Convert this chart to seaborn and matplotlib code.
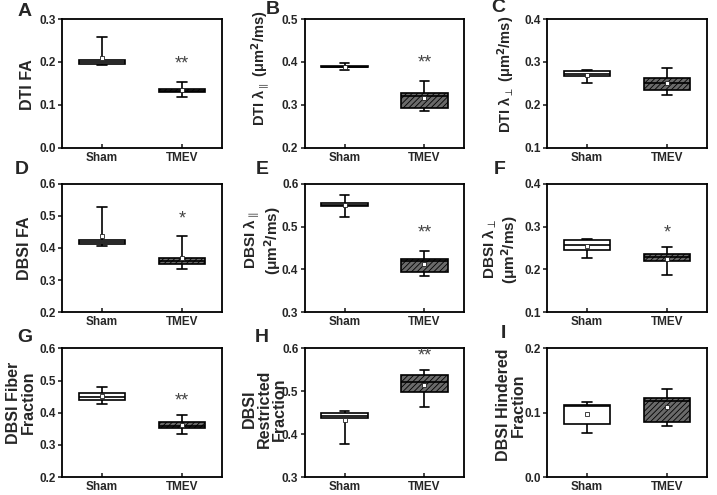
import numpy as np
import pandas as pd
import matplotlib
matplotlib.use("Agg")
import matplotlib.pyplot as plt
import seaborn as sns

sns.set_style("ticks")
plt.rcParams['font.family'] = ['Liberation Sans', 'DejaVu Sans']
plt.rcParams['mathtext.default'] = 'regular'
plt.rcParams['hatch.linewidth'] = 0.6

# ========================================
# Data: five-number summaries (min, Q1, median, Q3, max)
# ========================================
groups = ["Sham", "TMEV"]

dti_fa_sham = [0.193, 0.195, 0.199, 0.204, 0.257]
dti_fa_tmev = [0.117, 0.129, 0.133, 0.136, 0.154]

dti_ad_sham = [0.381, 0.387, 0.389, 0.391, 0.397]
dti_ad_tmev = [0.286, 0.293, 0.320, 0.327, 0.355]

dti_rd_sham = [0.251, 0.267, 0.272, 0.278, 0.281]
dti_rd_tmev = [0.222, 0.234, 0.250, 0.262, 0.285]

dbsi_fa_sham = [0.407, 0.412, 0.419, 0.425, 0.527]
dbsi_fa_tmev = [0.335, 0.350, 0.360, 0.370, 0.437]

dbsi_ad_sham = [0.522, 0.547, 0.550, 0.554, 0.573]
dbsi_ad_tmev = [0.384, 0.394, 0.419, 0.425, 0.442]

dbsi_rd_sham = [0.227, 0.246, 0.258, 0.268, 0.270]
dbsi_rd_tmev = [0.186, 0.219, 0.228, 0.235, 0.252]

fiber_sham = [0.428, 0.440, 0.449, 0.460, 0.479]
fiber_tmev = [0.334, 0.352, 0.360, 0.370, 0.392]

restricted_sham = [0.376, 0.437, 0.443, 0.450, 0.454]
restricted_tmev = [0.464, 0.498, 0.522, 0.538, 0.549]

hindered_sham = [0.069, 0.082, 0.110, 0.112, 0.117]
hindered_tmev = [0.079, 0.085, 0.118, 0.123, 0.137]

panel_letters = ["A", "B", "C", "D", "E", "F", "G", "H", "I"]
sq = r"$^{\mathbf{2}}$"
ylabels = [
    "DTI FA",
    "DTI λ$_{\\parallel}$ (μm" + sq + "/ms)",
    "DTI λ$_{\\perp}$ (μm" + sq + "/ms)",
    "DBSI FA",
    "DBSI λ$_{\\parallel}$\n(μm" + sq + "/ms)",
    "DBSI λ$_{\\perp}$\n(μm" + sq + "/ms)",
    "DBSI Fiber\nFraction",
    "DBSI\nRestricted\nFraction",
    "DBSI Hindered\nFraction",
]
sham_values = [dti_fa_sham, dti_ad_sham, dti_rd_sham, dbsi_fa_sham, dbsi_ad_sham,
               dbsi_rd_sham, fiber_sham, restricted_sham, hindered_sham]
tmev_values = [dti_fa_tmev, dti_ad_tmev, dti_rd_tmev, dbsi_fa_tmev, dbsi_ad_tmev,
               dbsi_rd_tmev, fiber_tmev, restricted_tmev, hindered_tmev]
ylims = [(0.0, 0.3), (0.2, 0.5), (0.1, 0.4), (0.2, 0.6), (0.3, 0.6),
         (0.1, 0.4), (0.2, 0.6), (0.3, 0.6), (0.0, 0.2)]
stars = ["**", "**", "", "*", "**", "*", "**", "**", ""]
star_y = [0.194, 0.397, 0, 0.49, 0.484, 0.286, 0.437, 0.582, 0]

# ========================================
# Layout (pixel positions in a 717x495 canvas)
# ========================================
W, H = 717, 495
letter_xy = [(25, 12), (273, 10), (498, 8),
             (22, 169), (262, 169), (500, 169),
             (25, 338), (262, 337), (503, 333)]
# y-label centres in axes fraction
label_xy = [(-0.214, 0.49), (-0.277, 0.62), (-0.26, 0.57),
            (-0.233, 0.50), (-0.264, 0.56), (-0.29, 0.49),
            (-0.258, 0.58), (-0.25, 0.53), (-0.224, 0.56)]
label_size = [11.5, 10.5, 10.5, 11.5, 11, 11, 11.5, 11.5, 11.5]

box_colors = {"Sham": "white", "TMEV": "#6a6a6a"}

fig, axes = plt.subplots(3, 3, figsize=(W / 100, H / 100), dpi=100)
fig.subplots_adjust(left=62 / W, right=707 / W, top=1 - 19 / H, bottom=18 / H,
                    wspace=0.516, hspace=0.28)

for i, ax in enumerate(axes.flat):
    df = pd.DataFrame({
        "group": ["Sham"] * len(sham_values[i]) + ["TMEV"] * len(tmev_values[i]),
        "value": sham_values[i] + tmev_values[i],
    })
    sns.boxplot(data=df, x="group", y="value", hue="group", order=groups,
                hue_order=groups, palette=box_colors, saturation=1, width=0.58,
                whis=(0, 100), linewidth=1.2, linecolor="black", showfliers=False,
                showmeans=True,
                meanprops=dict(marker="s", markersize=2.5, markerfacecolor="white",
                               markeredgecolor="#222222", markeredgewidth=0.6),
                capwidths=0.12, legend=False, ax=ax)
    for patch in ax.patches:
        if patch.get_facecolor()[0] < 0.9:
            patch.set_hatch("//////")

    ax.set_ylim(*ylims[i])
    lo, hi = ylims[i]
    ax.set_yticks(np.round(np.arange(lo, hi + 0.001, 0.1), 1))
    ax.yaxis.set_major_formatter(matplotlib.ticker.FormatStrFormatter("%.1f"))
    ax.set_xlim(-0.5, 1.5)
    ax.set_xlabel("")
    ax.set_ylabel("")
    ax.text(label_xy[i][0], label_xy[i][1], ylabels[i], transform=ax.transAxes,
            rotation=90, ha="center", va="center", multialignment="center",
            fontsize=label_size[i], fontweight="bold", linespacing=1.0)
    ax.tick_params(axis="x", direction="in", length=3, width=1.2, pad=3)
    ax.tick_params(axis="y", direction="out", length=3, width=1.2, pad=1.5)
    for lab in ax.get_xticklabels() + ax.get_yticklabels():
        lab.set_fontweight("bold")
        lab.set_fontsize(8.5)
    for sp in ax.spines.values():
        sp.set_linewidth(1.3)
        sp.set_color("black")

    if stars[i]:
        ax.text(1, star_y[i], stars[i], ha="center", va="center",
                fontsize=13, color="#444444")

    fig.text(letter_xy[i][0] / W, 1 - letter_xy[i][1] / H, panel_letters[i],
             ha="center", va="center", fontsize=14, fontweight="bold")

plt.savefig("out.png", dpi=100)
